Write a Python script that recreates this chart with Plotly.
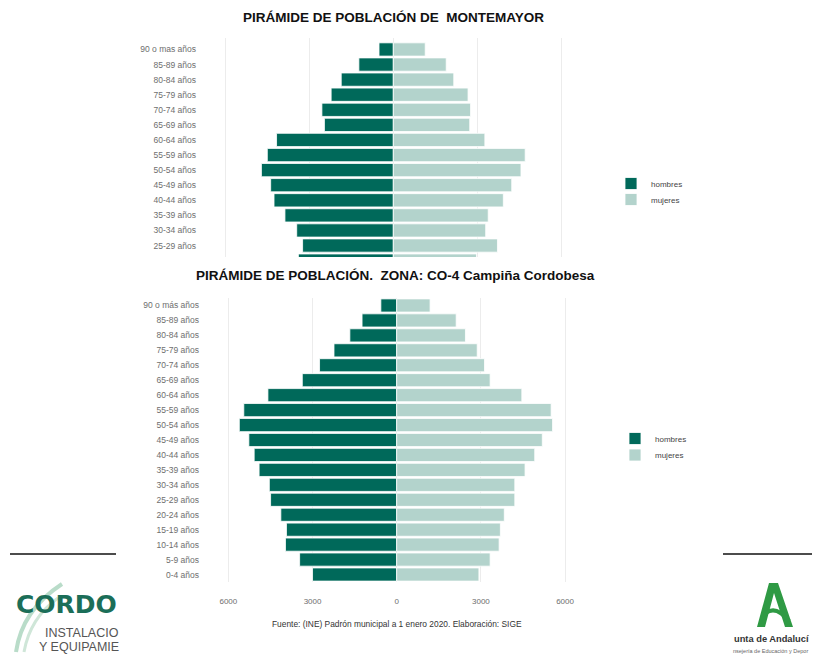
import plotly.graph_objects as go

# The page body has an 8px margin on every side; keep the figure inside the window
OFF = 8
W, H = 820 - 2 * OFF, 662 - 2 * OFF

# ---------------- data ----------------
ages_mont = ["20-24 años", "25-29 años", "30-34 años", "35-39 años", "40-44 años",
             "45-49 años", "50-54 años", "55-59 años", "60-64 años", "65-69 años",
             "70-74 años", "75-79 años", "80-84 años", "85-89 años", "90 o mas años"]
hombres_mont = [113, 108, 115, 129, 142, 146, 157, 150, 139, 82, 85, 74, 62, 41, 17]
mujeres_mont = [99, 124, 110, 113, 131, 141, 152, 157, 109, 91, 92, 89, 72, 63, 38]

ages_zona = ["0-4 años", "5-9 años", "10-14 años", "15-19 años", "20-24 años",
             "25-29 años", "30-34 años", "35-39 años", "40-44 años", "45-49 años",
             "50-54 años", "55-59 años", "60-64 años", "65-69 años", "70-74 años",
             "75-79 años", "80-84 años", "85-89 años", "90 o más años"]
hombres_zona = [3000, 3460, 3965, 3930, 4130, 4495, 4540, 4905, 5080, 5270,
                5610, 5450, 4590, 3365, 2750, 2235, 1670, 1235, 565]
mujeres_zona = [2930, 3330, 3650, 3695, 3835, 4210, 4210, 4575, 4920, 5190,
                5555, 5505, 4460, 3330, 3130, 2870, 2450, 2120, 1190]

x_ticks_zona = [-6000, -3000, 0, 3000, 6000]
x_ticktext_zona = ["6000", "3000", "0", "3000", "6000"]
x_ticks_mont = [-200, -100, 0, 100, 200]

C_H = "#00695A"
C_M = "#B3D3CC"
FONT = "Liberation Sans, Arial, sans-serif"


def px(x):
    return (x - OFF) / W


def py(y):
    return 1 - (y - OFF) / H


def bar_marker(c):
    return dict(color=c, line=dict(color="rgba(255,255,255,0.8)", width=1))


fig = go.Figure()

fig.add_trace(go.Bar(y=ages_mont, x=[-v for v in hombres_mont], orientation="h",
                     name="hombres", marker=bar_marker(C_H), showlegend=True,
                     customdata=hombres_mont, hovertemplate="%{y}: %{customdata}<extra>hombres</extra>",
                     xaxis="x", yaxis="y", legend="legend"))
fig.add_trace(go.Bar(y=ages_mont, x=mujeres_mont, orientation="h",
                     name="mujeres", marker=bar_marker(C_M), showlegend=True,
                     xaxis="x", yaxis="y", legend="legend3"))

fig.add_trace(go.Bar(y=ages_zona, x=[-v for v in hombres_zona], orientation="h",
                     name="hombres", marker=bar_marker(C_H), showlegend=True,
                     customdata=hombres_zona, hovertemplate="%{y}: %{customdata}<extra>hombres</extra>",
                     xaxis="x2", yaxis="y2", legend="legend2"))
fig.add_trace(go.Bar(y=ages_zona, x=mujeres_zona, orientation="h",
                     name="mujeres", marker=bar_marker(C_M), showlegend=True,
                     xaxis="x2", yaxis="y2", legend="legend4"))

# chart geometry in window pixels
top_l, top_r, top_c, top_s = 197, 588, 393.3, 84 / 100
bot_l, bot_r, bot_c, bot_s = 200, 592, 396.7, 84.17 / 3000

grid = "#ECECEC"
tickfont = dict(family=FONT, size=8.5, color="#6E6E6E")
legfont = dict(family=FONT, size=8, color="#444")


def legend_at(sq_x, sq_y):
    return dict(x=px(sq_x - 20), y=py(sq_y - 15), xanchor="left", yanchor="top",
                font=legfont, bgcolor="rgba(0,0,0,0)", visible=True)


fig.update_layout(
    width=W, height=H,
    margin=dict(l=0, r=0, t=0, b=0),
    paper_bgcolor="white", plot_bgcolor="white",
    showlegend=True,
    barmode="relative", bargap=0.12,
    font=dict(family=FONT),
    xaxis=dict(domain=[px(top_l), px(top_r)],
               range=[(top_l - top_c) / top_s, (top_r - top_c) / top_s],
               tickvals=x_ticks_mont, showticklabels=False, showgrid=True, gridcolor=grid,
               zeroline=False, anchor="y", fixedrange=True),
    yaxis=dict(domain=[py(257), py(38)], range=[0.24, 14.76], type="category",
               showgrid=False, zeroline=False, tickfont=tickfont, ticks="", anchor="x",
               fixedrange=True),
    xaxis2=dict(domain=[px(bot_l), px(bot_r)],
                range=[(bot_l - bot_c) / bot_s, (bot_r - bot_c) / bot_s],
                tickvals=x_ticks_zona, ticktext=x_ticktext_zona, showgrid=True, gridcolor=grid,
                zeroline=False, anchor="y2", ticks="outside", ticklen=11,
                tickcolor="rgba(0,0,0,0)", tickfont=dict(family=FONT, size=8, color="#6E6E6E"),
                fixedrange=True),
    yaxis2=dict(domain=[py(582), py(298)], type="category", range=[-0.5, 18.5],
                showgrid=False, zeroline=False, tickfont=tickfont, ticks="", anchor="x2",
                fixedrange=True),
    legend=legend_at(631, 184),
    legend3=legend_at(631, 200),
    legend2=legend_at(635, 439),
    legend4=legend_at(635, 455.5),
)

annotations = [
    dict(text="<b>PIRÁMIDE DE POBLACIÓN DE \u00a0MONTEMAYOR</b>", x=px(393), y=py(17),
         font=dict(family=FONT, size=13.5, color="#111")),
    dict(text="<b>PIRÁMIDE DE POBLACIÓN. \u00a0ZONA: CO-4 Campiña Cordobesa</b>", x=px(395), y=py(275),
         font=dict(family=FONT, size=13.5, color="#111")),
    dict(text="Fuente: (INE) Padrón municipal a 1 enero 2020. Elaboración: SIGE", x=px(397), y=py(624),
         font=dict(family=FONT, size=8.4, color="#333")),
    # left logo (cropped in the reference)
    dict(text="<b>CORDO</b>", x=px(14), y=py(604), xanchor="left", align="left",
         font=dict(family="DejaVu Sans, sans-serif", size=25, color="#1B6E58")),
    dict(text="INSTALACIO", x=px(43), y=py(633), xanchor="left", align="left",
         font=dict(family="Liberation Sans Narrow, Liberation Sans, sans-serif", size=12.5, color="#555")),
    dict(text="Y EQUIPAMIE", x=px(37), y=py(647), xanchor="left", align="left",
         font=dict(family="Liberation Sans Narrow, Liberation Sans, sans-serif", size=12.5, color="#555")),
    # right logo text (cropped in the reference)
    dict(text="<b>unta de Andalucí</b>", x=px(732), y=py(639), xanchor="left", align="left",
         font=dict(family=FONT, size=9.3, color="#333")),
    dict(text="nsejería de Educación y Depor", x=px(731), y=py(651), xanchor="left", align="left",
         font=dict(family=FONT, size=5.5, color="#666")),
]
for a in annotations:
    a.setdefault("xref", "paper")
    a.setdefault("yref", "paper")
    a.setdefault("showarrow", False)
    a.setdefault("xanchor", "center")
    a.setdefault("yanchor", "middle")
fig.update_layout(annotations=annotations)

shapes = [
    dict(type="line", x0=px(10), x1=px(116), y0=py(554), y1=py(554), line=dict(color="#111", width=1.5)),
    dict(type="line", x0=px(723), x1=px(812), y0=py(554), y1=py(554), line=dict(color="#111", width=1.5)),
    # swoosh of left logo
    dict(type="path", path=f"M {px(16)},{py(652)} Q {px(22)},{py(610)} {px(62)},{py(584)}",
         line=dict(color="#B9DCC9", width=4), layer="below"),
    dict(type="path", path=f"M {px(24)},{py(652)} Q {px(30)},{py(618)} {px(58)},{py(598)}",
         line=dict(color="#CFE6D8", width=3), layer="below"),
    # Junta de Andalucía "A"
    dict(type="path",
         path=(f"M {px(769)},{py(583)} L {px(778)},{py(583)} L {px(793)},{py(627)} L {px(785)},{py(627)} "
               f"L {px(774)},{py(593)} L {px(765)},{py(627)} L {px(757)},{py(627)} Z"),
         fillcolor="#2F9A44", line=dict(width=0)),
    dict(type="path",
         path=f"M {px(766)},{py(613)} Q {px(776)},{py(605)} {px(789)},{py(621)}",
         line=dict(color="#2F9A44", width=4)),
]
for s in shapes:
    s.setdefault("xref", "paper")
    s.setdefault("yref", "paper")
fig.update_layout(shapes=shapes)

fig.write_html("out.html")
